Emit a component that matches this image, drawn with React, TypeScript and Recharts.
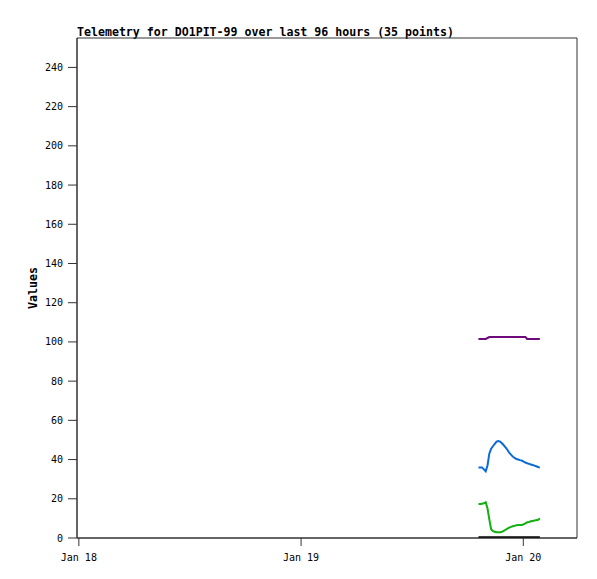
import React from 'react';
import {
  LineChart,
  Line,
  XAxis,
  YAxis,
  ReferenceArea,
} from 'recharts';

// hours since Jan 18 00:00, one sample every ~11.4 min
const START_HOUR = 43.16;
const STEP_HOUR = 0.195;

const blueValues = [
  36, 36, 36, 35, 34, 37, 43, 45.5, 46.8, 48, 49.2, 49.5, 49.2, 48.3, 47.3, 46.2, 45, 43.5,
  42.5, 41.5, 40.8, 40.3, 40, 39.7, 39.5, 39, 38.5, 38.1, 37.8, 37.5, 37.2, 36.9, 36.6, 36.2, 35.9,
];
const greenValues = [
  17.3, 17.3, 17.5, 17.7, 18.2, 15, 9.5, 4.5, 3.5, 3.2, 2.9, 2.9, 2.9, 3.2, 3.6, 4.2, 4.8, 5.3,
  5.7, 6, 6.2, 6.5, 6.6, 6.6, 6.6, 7, 7.5, 8, 8.2, 8.5, 8.7, 8.9, 9.1, 9.3, 10,
];
const purpleValues = [
  101.5, 101.5, 101.5, 101.5, 101.5, 102, 102.5, 102.5, 102.5, 102.5, 102.5, 102.5, 102.5, 102.5,
  102.5, 102.5, 102.5, 102.5, 102.5, 102.5, 102.5, 102.5, 102.5, 102.5, 102.5, 102.5, 102.5,
  101.5, 101.5, 101.5, 101.5, 101.5, 101.5, 101.5, 101.5,
];
const blackValues = [
  0.4, 0.4, 0.4, 0.4, 0.4, 0.4, 0.4, 0.4, 0.4, 0.4, 0.4, 0.4, 0.4, 0.4, 0.4, 0.4, 0.4, 0.4,
  0.4, 0.4, 0.4, 0.4, 0.4, 0.4, 0.4, 0.4, 0.4, 0.4, 0.4, 0.4, 0.4, 0.4, 0.4, 0.4, 0.4,
];

const xTicks = [0, 24, 48];
const xTickLabels = ['Jan 18', 'Jan 19', 'Jan 20'];
const yTicks = [0, 20, 40, 60, 80, 100, 120, 140, 160, 180, 200, 220, 240];

const X_MIN = -0.2;
const X_MAX = 53.8;
const Y_MAX = 255;

const data = blueValues.map((v, i) => ({
  t: START_HOUR + i * STEP_HOUR,
  blue: v,
  green: greenValues[i],
  purple: purpleValues[i],
  black: blackValues[i],
}));

const mono = '"DejaVu Sans Mono", "Liberation Mono", monospace';
const axisColor = '#333';

export default function App() {
  return (
    <div style={{ position: 'absolute', left: 0, top: 0, width: 597, height: 579, background: '#fff' }}>
      <div
        style={{
          position: 'absolute',
          left: 77,
          top: 25,
          fontFamily: mono,
          fontSize: 11.6,
          fontWeight: 'bold',
          lineHeight: '14px',
          color: '#000',
          whiteSpace: 'nowrap',
        }}
      >
        Telemetry for DO1PIT-99 over last 96 hours (35 points)
      </div>
      <LineChart width={597} height={579} data={data} margin={{ top: 38, right: 20, bottom: 0, left: 0 }}>
        <ReferenceArea
          x1={X_MIN}
          x2={X_MAX}
          y1={0}
          y2={Y_MAX}
          fill="none"
          stroke={axisColor}
          strokeWidth={1}
        />
        <XAxis
          dataKey="t"
          type="number"
          domain={[X_MIN, X_MAX]}
          ticks={xTicks}
          tickFormatter={(v: number) => xTickLabels[xTicks.indexOf(v)] ?? ''}
          height={41}
          stroke={axisColor}
          tickSize={8}
          tickMargin={8}
          tick={{ fill: '#000', fontFamily: mono, fontSize: 10 }}
          allowDataOverflow
        />
        <YAxis
          type="number"
          domain={[0, Y_MAX]}
          ticks={yTicks}
          width={77}
          stroke={axisColor}
          tickSize={9}
          tickMargin={5}
          tick={{ fill: '#000', fontFamily: mono, fontSize: 10 }}
          allowDataOverflow
          label={{
            value: 'Values',
            angle: -90,
            position: 'center',
            dx: -6,
            style: { fontFamily: mono, fontSize: 11.6, fontWeight: 'bold', fill: '#000' },
          }}
        />
        <Line dataKey="purple" stroke="#6e0a7c" strokeWidth={2} dot={false} isAnimationActive={false} type="linear" />
        <Line dataKey="blue" stroke="#0b6ad4" strokeWidth={2} dot={false} isAnimationActive={false} type="linear" />
        <Line dataKey="green" stroke="#12b012" strokeWidth={2} dot={false} isAnimationActive={false} type="linear" />
        <Line dataKey="black" stroke="#000" strokeWidth={2} dot={false} isAnimationActive={false} type="linear" />
      </LineChart>
    </div>
  );
}
